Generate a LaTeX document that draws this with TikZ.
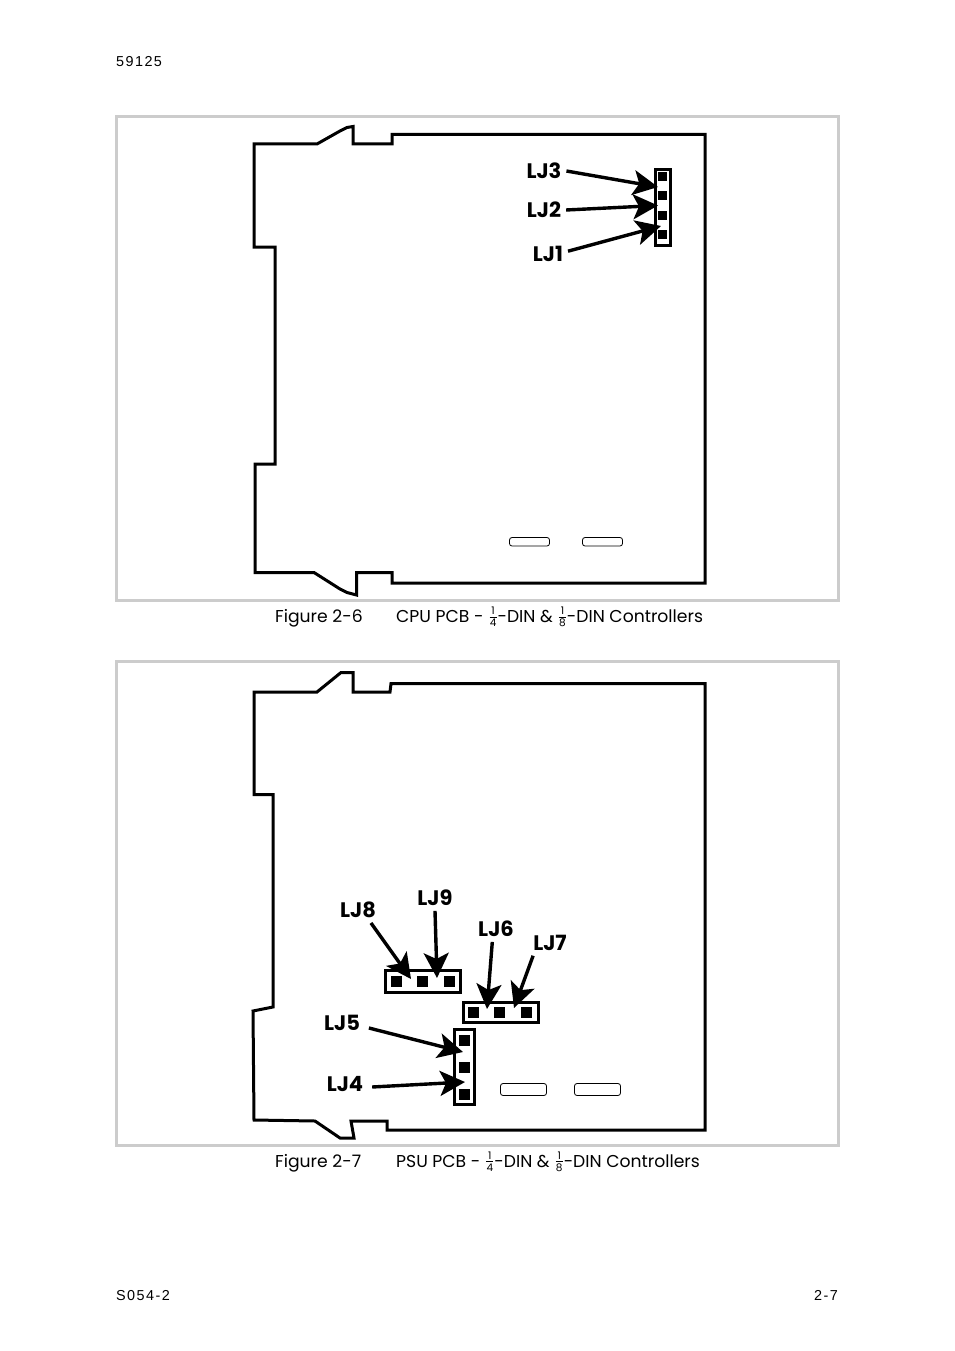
\documentclass[tikz,border=0pt]{standalone}
\usepackage{fontspec}
\setmainfont{Poppins}
\newfontfamily\plainfont{Liberation Sans}
\usetikzlibrary{arrows.meta}
\tikzset{
  x=1pt,y=-1pt,
  frameline/.style={draw=black!20,line width=3pt},
  board/.style={draw=black,line width=3pt,line join=miter},
  slotbox/.style={draw=black,line width=.8pt,rounded corners=2.5pt},
  hdr/.style={draw=black,line width=3pt},
  pinsq/.style={fill=black,inner sep=0pt,minimum size=#1},
  lab/.style={font=\fontsize{21}{21}\selectfont\bfseries,inner sep=2pt,outer sep=3pt},
  captext/.style={font=\fontsize{17.2}{20}\selectfont,anchor=base west,inner sep=0pt},
  pagetext/.style={font=\plainfont\fontsize{14.4}{16}\selectfont\addfontfeature{LetterSpace=10},inner sep=0pt,anchor=base west},
  callout/.style={draw=black,line width=3.4pt,-{Stealth[length=25pt,width=25pt,inset=6pt]}},
}
\newcommand{\fr}[2]{\hspace{1.5pt}\makebox[7pt]{\fontsize{10.5}{10.5}\selectfont\makebox[0pt]{\raisebox{7.6pt}{#1}}\makebox[0pt]{\raisebox{5.2pt}{\rule{7pt}{.5pt}}}\makebox[0pt]{\raisebox{-4.2pt}{#2}}}\hspace{1pt}}
\begin{document}
\begin{tikzpicture}
\useasboundingbox (0,0) rectangle (954,1351);
\fill[white] (0,0) rectangle (954,1351);
\node[pagetext] (doc) at (116,67) {59125};
\node[pagetext] (rev) at (116,1300.5) {S054-2};
\node[pagetext,anchor=base east] (pg) at (838,1300.5) {2-7};
% Figure 2-6
\draw[frameline] (116,117) rectangle (838,600);
\draw[board] (254,144) -- (317,144) -- (340,131) -- (347,127.5) -- (353,126.5) -- (353,144) -- (392,144) -- (392,134.5) -- (705,134.5) -- (705,583) -- (392,583) -- (392,572.5) -- (356.5,572.5) -- (356.5,595) -- (347,592.5) -- (340,589) -- (314,572.5) -- (255,572.5) -- (255,464) -- (275,464) -- (275,247) -- (254,247) -- cycle;
\draw[slotbox] (509.5,537.5) rectangle (549.5,546);
\draw[slotbox] (582.5,537.5) rectangle (622.5,546);
\draw[hdr] (655,170) rectangle (670,245);
\node[pinsq=9pt] (a1) at (662.5,177) {};
\node[pinsq=9pt] (a2) at (662.5,196) {};
\node[pinsq=9pt] (a3) at (662.5,215) {};
\node[pinsq=9pt] (a4) at (662.5,234) {};
\coordinate (t3) at (658,187);
\coordinate (t2) at (658,205.5);
\coordinate (t1) at (661,226);
\node[lab] (lj3) at (544,171) {LJ3};
\node[lab] (lj2) at (544,210) {LJ2};
\node[lab] (lj1) at (548,254) {LJ1};
\draw[callout] (lj3.east) -- (t3);
\draw[callout] (lj2.east) -- (t2);
\draw[callout] (lj1.8) -- (t1);
\node[captext] (c1a) at (275,622.5) {Figure 2-6};
\node[captext] (c1b) at (396,622.5) {CPU PCB - \fr14-DIN \& \fr18-DIN Controllers};
% Figure 2-7
\draw[frameline] (116,661.5) rectangle (838,1145);
\draw[board] (254,692) -- (317,692) -- (341,672.5) -- (353,672.5) -- (353,692) -- (390,692) -- (391,683.5) -- (705,683.5) -- (705,1130) -- (387,1130) -- (387,1121) -- (351,1121) -- (354,1138) -- (340,1138) -- (315,1121) -- (254,1120) -- (253,1011) -- (273,1007) -- (273,794.5) -- (254,794.5) -- cycle;
\draw[slotbox] (500.5,1083.5) rectangle (546.5,1095.5);
\draw[slotbox] (574.5,1083.5) rectangle (620.5,1095.5);
\draw[hdr] (385.5,970.5) rectangle (460.5,992);
\draw[hdr] (463,1002) rectangle (538.5,1022);
\draw[hdr] (454.5,1029) rectangle (474.5,1104);
\node[pinsq=11pt] (b1) at (396,981) {};
\node[pinsq=11pt] (b2) at (422.5,981) {};
\node[pinsq=11pt] (b3) at (449,981) {};
\node[pinsq=11pt] (d1) at (473,1012) {};
\node[pinsq=11pt] (d2) at (499.5,1012) {};
\node[pinsq=11pt] (d3) at (526,1012) {};
\node[pinsq=11pt] (e1) at (464.5,1040) {};
\node[pinsq=11pt] (e2) at (464.5,1067) {};
\node[pinsq=11pt] (e3) at (464.5,1094) {};
\coordinate (t8) at (411,979);
\coordinate (t9) at (437,978);
\coordinate (t6) at (487,1009);
\coordinate (t7) at (514,1008);
\coordinate (t5) at (463,1052);
\coordinate (t4) at (465,1082);
\node[lab] (lj8) at (358,910) {LJ8};
\node[lab] (lj9) at (435,898) {LJ9};
\node[lab] (lj6) at (496,929) {LJ6};
\node[lab] (lj7) at (550,943) {LJ7};
\node[lab] (lj5) at (342,1023) {LJ5};
\node[lab] (lj4) at (345,1084) {LJ4};
\draw[callout] (lj8.-45) -- (t8);
\draw[callout] (lj9.south) -- (t9);
\draw[callout] (lj6.254) -- (t6);
\draw[callout] (lj7.217) -- (t7);
\draw[callout] ([xshift=4pt,yshift=-5pt]lj5.east) -- (t5);
\draw[callout] ([xshift=4pt,yshift=-3pt]lj4.east) -- (t4);
\node[captext] (c2a) at (275,1167) {Figure 2-7};
\node[captext] (c2b) at (396,1167) {PSU PCB - \fr14-DIN \& \fr18-DIN Controllers};
\end{tikzpicture}
\end{document}
